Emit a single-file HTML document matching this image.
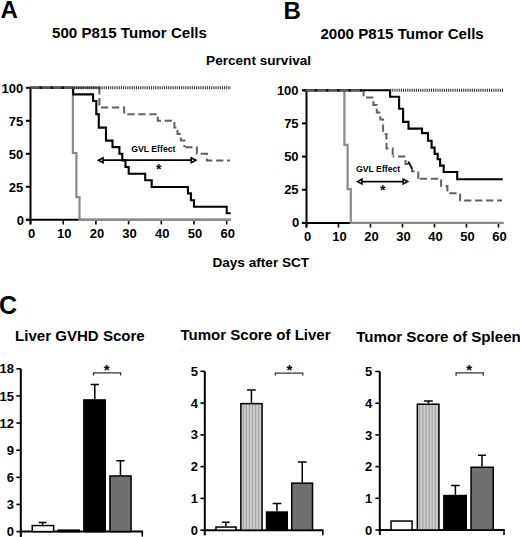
<!DOCTYPE html>
<html><head><meta charset="utf-8"><style>
html,body{margin:0;padding:0;background:#fff;width:520px;height:537px;overflow:hidden}
svg{display:block}
text{font-family:"Liberation Sans",sans-serif;font-weight:bold;fill:#000}
</style></head><body>
<svg width="520" height="537" viewBox="0 0 520 537">
<rect width="520" height="537" fill="#fff"/>
<text x="0.6" y="17.9" font-size="24" text-anchor="start" >A</text>
<text x="283.6" y="18.7" font-size="24" text-anchor="start" >B</text>
<text x="-0.9" y="313.5" font-size="25" text-anchor="start" >C</text>
<text x="129.5" y="37.7" font-size="15.1" text-anchor="middle" >500 P815 Tumor Cells</text>
<text x="402.1" y="39.2" font-size="15.1" text-anchor="middle" >2000 P815 Tumor Cells</text>
<text x="258.6" y="65.3" font-size="13.6" text-anchor="middle" >Percent survival</text>
<text x="260.8" y="266.9" font-size="13.6" text-anchor="middle" >Days after SCT</text>
<text x="79.9" y="340.6" font-size="15.05" text-anchor="middle" >Liver GVHD Score</text>
<text x="255.5" y="340.4" font-size="15.05" text-anchor="middle" >Tumor Score of Liver</text>
<text x="356.2" y="341.8" font-size="15.15" text-anchor="start" >Tumor Score of Spleen</text>
<path d="M30.5,87.8 V224.4" stroke="#000" stroke-width="2" fill="none"/>
<path d="M25.9,87.80 H30.5" stroke="#000" stroke-width="2"/>
<text x="23.2" y="92.7" font-size="13" text-anchor="end" >100</text>
<path d="M25.9,120.80 H30.5" stroke="#000" stroke-width="2"/>
<text x="23.2" y="125.7" font-size="13" text-anchor="end" >75</text>
<path d="M25.9,153.80 H30.5" stroke="#000" stroke-width="2"/>
<text x="23.2" y="158.7" font-size="13" text-anchor="end" >50</text>
<path d="M25.9,186.80 H30.5" stroke="#000" stroke-width="2"/>
<text x="23.2" y="191.7" font-size="13" text-anchor="end" >25</text>
<path d="M25.9,219.80 H30.5" stroke="#000" stroke-width="2"/>
<text x="23.9" y="224.7" font-size="13" text-anchor="end" >0</text>
<path d="M25.9,219.8 H231" stroke="#000" stroke-width="2"/>
<path d="M30.50,219.8 V224.4" stroke="#000" stroke-width="1.6"/>
<text x="31.5" y="238.1" font-size="13" text-anchor="middle" >0</text>
<path d="M63.20,219.8 V224.4" stroke="#000" stroke-width="1.6"/>
<text x="64.2" y="238.1" font-size="13" text-anchor="middle" >10</text>
<path d="M95.90,219.8 V224.4" stroke="#000" stroke-width="1.6"/>
<text x="96.9" y="238.1" font-size="13" text-anchor="middle" >20</text>
<path d="M128.60,219.8 V224.4" stroke="#000" stroke-width="1.6"/>
<text x="129.6" y="238.1" font-size="13" text-anchor="middle" >30</text>
<path d="M161.30,219.8 V224.4" stroke="#000" stroke-width="1.6"/>
<text x="162.3" y="238.1" font-size="13" text-anchor="middle" >40</text>
<path d="M194.00,219.8 V224.4" stroke="#000" stroke-width="1.6"/>
<text x="195.0" y="238.1" font-size="13" text-anchor="middle" >50</text>
<path d="M226.70,219.8 V224.4" stroke="#000" stroke-width="1.6"/>
<text x="227.7" y="238.1" font-size="13" text-anchor="middle" >60</text>
<path d="M306.5,90.2 V227.5" stroke="#000" stroke-width="2" fill="none"/>
<path d="M301.9,90.20 H306.5" stroke="#000" stroke-width="2"/>
<text x="298.59999999999997" y="94.7" font-size="13" text-anchor="end" >100</text>
<path d="M301.9,123.38 H306.5" stroke="#000" stroke-width="2"/>
<text x="298.59999999999997" y="127.88" font-size="13" text-anchor="end" >75</text>
<path d="M301.9,156.55 H306.5" stroke="#000" stroke-width="2"/>
<text x="298.59999999999997" y="161.05" font-size="13" text-anchor="end" >50</text>
<path d="M301.9,189.72 H306.5" stroke="#000" stroke-width="2"/>
<text x="298.59999999999997" y="194.22" font-size="13" text-anchor="end" >25</text>
<path d="M301.9,222.90 H306.5" stroke="#000" stroke-width="2"/>
<text x="299.29999999999995" y="227.4" font-size="13" text-anchor="end" >0</text>
<path d="M301.9,222.9 H503.3" stroke="#000" stroke-width="2"/>
<path d="M306.50,222.9 V227.5" stroke="#000" stroke-width="1.6"/>
<text x="307.5" y="240.9" font-size="13" text-anchor="middle" >0</text>
<path d="M338.50,222.9 V227.5" stroke="#000" stroke-width="1.6"/>
<text x="339.5" y="240.9" font-size="13" text-anchor="middle" >10</text>
<path d="M370.50,222.9 V227.5" stroke="#000" stroke-width="1.6"/>
<text x="371.5" y="240.9" font-size="13" text-anchor="middle" >20</text>
<path d="M402.50,222.9 V227.5" stroke="#000" stroke-width="1.6"/>
<text x="403.5" y="240.9" font-size="13" text-anchor="middle" >30</text>
<path d="M434.50,222.9 V227.5" stroke="#000" stroke-width="1.6"/>
<text x="435.5" y="240.9" font-size="13" text-anchor="middle" >40</text>
<path d="M466.50,222.9 V227.5" stroke="#000" stroke-width="1.6"/>
<text x="467.5" y="240.9" font-size="13" text-anchor="middle" >50</text>
<path d="M498.50,222.9 V227.5" stroke="#000" stroke-width="1.6"/>
<text x="499.5" y="240.9" font-size="13" text-anchor="middle" >60</text>
<path d="M30.5,87.7 H99.4 V107.6 H124.2 V114.2 H157.8 V120.8 H174.4 V127.4 H177.5 V134 H180.9 V140.6 H184.4 V147.2" stroke="#616161" stroke-width="2" fill="none" stroke-dasharray="7.3 3.7" stroke-dashoffset="8.70"/>
<path d="M184.4,147.2 H196.9 V153.8 H206.9 V160.4 H230" stroke="#616161" stroke-width="2" fill="none" stroke-dasharray="7.3 3.7" stroke-dashoffset="10.10"/>
<path d="M30.5,87.7 H72.9 V153 H76.4 V197.2 H79.5 V219.8 H230.9" stroke="#8a8a8a" stroke-width="2.2" fill="none"/>
<path d="M30.5,87.7 H73.2 V94.4 H93.1 V101 H96.3 V114.1 H98.8 V127.6 H106 V140.6 H112.5 V147.1 H119.4 V153.7 H122.3 V160.4 H125.5 V167 H128.7 V173.7 H145.2 V180.2 H151.7 V187 H187.9 V193.4 H190.9 V200.2 H194 V206.8 H226.7 V213.3 H230.7" stroke="#000" stroke-width="2.1" fill="none"/>
<path d="M99.4,87.7 H230.9" stroke="#2a2a2a" stroke-width="3" fill="none" stroke-dasharray="1.05 1.1"/>
<path d="M30.5,87.7 H73" stroke="#555" stroke-width="2.4" fill="none"/>
<path d="M30.5,87.7 H73" stroke="#111" stroke-width="2.6" fill="none" stroke-dasharray="2.5 8.5" stroke-dashoffset="-9"/>
<path d="M73,87.7 H99.4" stroke="#6a6a6a" stroke-width="2" fill="none"/>
<path d="M74,87.7 H99.4" stroke="#2a2a2a" stroke-width="3" fill="none" stroke-dasharray="1.05 1.1"/>
<path d="M306.5,90.2 H363.6 V97.6 H373.4 V104.9 H376.8 V112.6 H380.3 V119.4 H383.1 V133.9 H386.5 V148.6 H392.7 V156.4" stroke="#616161" stroke-width="2" fill="none" stroke-dasharray="7.3 3.7" stroke-dashoffset="10.10"/>
<path d="M392.7,156.4 H405.5 V163.9 H408.4 L411.9,168.3 V171.3 H418.3 V178.8" stroke="#616161" stroke-width="2" fill="none" stroke-dasharray="7.3 3.7" stroke-dashoffset="5.70"/>
<path d="M418.3,178.8 H441.1 V186 H447.4 V193.3 H460.1 V200.5 H502" stroke="#616161" stroke-width="2" fill="none" stroke-dasharray="7.3 3.7" stroke-dashoffset="9.50"/>
<path d="M306.5,90.2 H344.4 V144.9 H347.6 V189.2 H350.8 V222.9 H503.3" stroke="#8a8a8a" stroke-width="2.2" fill="none"/>
<path d="M306.5,90.2 H390.1 V96.8 H399.1 V108.8 H403.1 V121.9 H408.5 V128.6 H422 V133.1 H428 V140.7 H431.6 V147.6 H434.6 V153.9 H437.7 V159.3 H440.1 V165.6 H443.7 V172 H457.2 V179.2 H502.8" stroke="#000" stroke-width="2.1" fill="none"/>
<path d="M390.1,90.2 H503.3" stroke="#2a2a2a" stroke-width="3" fill="none" stroke-dasharray="1.05 1.1"/>
<path d="M303,90.2 H363.5" stroke="#555" stroke-width="2.4" fill="none"/>
<path d="M303,90.2 H363.5" stroke="#111" stroke-width="2.6" fill="none" stroke-dasharray="2.5 8.8" stroke-dashoffset="-11.6"/>
<path d="M408.6,162.2 L411.9,168.1" stroke="#111" stroke-width="1.9" stroke-linecap="round"/>
<path d="M102.3,160.2 H192.0" stroke="#000" stroke-width="1.7"/>
<path d="M98.5,160.2 L103.0,157.79999999999998 V162.6 Z" stroke="#000" stroke-width="1.6" fill="#fff" stroke-linejoin="miter" stroke-miterlimit="10"/>
<path d="M195.8,160.2 L191.3,157.79999999999998 V162.6 Z" stroke="#000" stroke-width="1.6" fill="#fff" stroke-linejoin="miter" stroke-miterlimit="10"/>
<path d="M361.2,181.6 H403.9" stroke="#000" stroke-width="1.7"/>
<path d="M357.4,181.6 L361.9,179.2 V184.0 Z" stroke="#000" stroke-width="1.6" fill="#fff" stroke-linejoin="miter" stroke-miterlimit="10"/>
<path d="M407.7,181.6 L403.2,179.2 V184.0 Z" stroke="#000" stroke-width="1.6" fill="#fff" stroke-linejoin="miter" stroke-miterlimit="10"/>
<text x="131.2" y="152.0" font-size="8.7" text-anchor="start" >GVL Effect</text>
<text x="356.0" y="172.4" font-size="8.7" text-anchor="start" >GVL Effect</text>
<text x="158.7" y="173.5" font-size="14" text-anchor="middle" >*</text>
<text x="382.8" y="195.0" font-size="14" text-anchor="middle" >*</text>
<path d="M20.8,368.8 V537" stroke="#000" stroke-width="2"/>
<path d="M16.4,531.60 H20.8" stroke="#000" stroke-width="1.6"/>
<text x="14.0" y="536.2" font-size="13" text-anchor="end" >0</text>
<path d="M16.4,504.47 H20.8" stroke="#000" stroke-width="1.6"/>
<text x="14.0" y="509.07" font-size="13" text-anchor="end" >3</text>
<path d="M16.4,477.33 H20.8" stroke="#000" stroke-width="1.6"/>
<text x="14.0" y="481.93" font-size="13" text-anchor="end" >6</text>
<path d="M16.4,450.20 H20.8" stroke="#000" stroke-width="1.6"/>
<text x="14.0" y="454.8" font-size="13" text-anchor="end" >9</text>
<path d="M16.4,423.07 H20.8" stroke="#000" stroke-width="1.6"/>
<text x="14.0" y="427.67" font-size="13" text-anchor="end" >12</text>
<path d="M16.4,395.93 H20.8" stroke="#000" stroke-width="1.6"/>
<text x="14.0" y="400.53" font-size="13" text-anchor="end" >15</text>
<path d="M16.4,368.80 H20.8" stroke="#000" stroke-width="1.6"/>
<text x="14.0" y="373.4" font-size="13" text-anchor="end" >18</text>
<path d="M20.8,531.6 H143" stroke="#000" stroke-width="2"/>
<path d="M142.3,531.6 V536.6" stroke="#000" stroke-width="1.6"/>
<path d="M42.6,524.8 V522.5 M38.7,522.5 H46.5" stroke="#000" stroke-width="1.5"/>
<rect x="32.25" y="525.55" width="21.4" height="6.050000000000068" fill="#fff" stroke="#000" stroke-width="1.5"/>
<rect x="58.05" y="530.15" width="21.200000000000003" height="1.4500000000000455" fill="#444" stroke="#000" stroke-width="1.5"/>
<path d="M94.8,399.2 V384.6 M90.6,384.6 H99.0" stroke="#000" stroke-width="1.5"/>
<rect x="83.85" y="399.95" width="21.400000000000006" height="131.65000000000003" fill="#000" stroke="#000" stroke-width="1.5"/>
<path d="M120.44999999999999,475.2 V460.8 M116.3,460.8 H124.6" stroke="#000" stroke-width="1.5"/>
<rect x="109.95" y="475.95" width="21.10000000000001" height="55.650000000000034" fill="#707070" stroke="#000" stroke-width="1.5"/>
<path d="M93.5,375.59999999999997 V372.9 H120.6 V375.59999999999997" stroke="#333" stroke-width="1.3" fill="none"/>
<text x="106.7" y="374.6" font-size="15" text-anchor="middle" >*</text>
<path d="M204.8,371.3 V535.3" stroke="#000" stroke-width="2"/>
<path d="M200.4,530.20 H204.8" stroke="#000" stroke-width="1.6"/>
<text x="198.0" y="534.8" font-size="13" text-anchor="end" >0</text>
<path d="M200.4,498.42 H204.8" stroke="#000" stroke-width="1.6"/>
<text x="198.0" y="503.02" font-size="13" text-anchor="end" >1</text>
<path d="M200.4,466.64 H204.8" stroke="#000" stroke-width="1.6"/>
<text x="198.0" y="471.24" font-size="13" text-anchor="end" >2</text>
<path d="M200.4,434.86 H204.8" stroke="#000" stroke-width="1.6"/>
<text x="198.0" y="439.46" font-size="13" text-anchor="end" >3</text>
<path d="M200.4,403.08 H204.8" stroke="#000" stroke-width="1.6"/>
<text x="198.0" y="407.68" font-size="13" text-anchor="end" >4</text>
<path d="M200.4,371.30 H204.8" stroke="#000" stroke-width="1.6"/>
<text x="198.0" y="375.9" font-size="13" text-anchor="end" >5</text>
<path d="M204.8,530.2 H323.5" stroke="#000" stroke-width="2"/>
<path d="M322.8,530.2 V535.2" stroke="#000" stroke-width="1.6"/>
<path d="M225.85,526.3 V522.3 M222.1,522.3 H229.6" stroke="#000" stroke-width="1.5"/>
<rect x="215.95" y="527.05" width="20.100000000000023" height="3.150000000000091" fill="#fff" stroke="#000" stroke-width="1.5"/>
<path d="M251.45,402.9 V389.9 M247.1,389.9 H255.8" stroke="#000" stroke-width="1.5"/>
<rect x="240.85" y="403.65" width="21.200000000000017" height="126.55000000000007" fill="#d0d0d0"/>
<rect x="242.60" y="402.9" width="1.3" height="127.30000000000007" fill="#a6a6a6"/>
<rect x="245.70" y="402.9" width="1.3" height="127.30000000000007" fill="#a6a6a6"/>
<rect x="248.80" y="402.9" width="1.3" height="127.30000000000007" fill="#a6a6a6"/>
<rect x="251.90" y="402.9" width="1.3" height="127.30000000000007" fill="#a6a6a6"/>
<rect x="255.00" y="402.9" width="1.3" height="127.30000000000007" fill="#a6a6a6"/>
<rect x="258.10" y="402.9" width="1.3" height="127.30000000000007" fill="#a6a6a6"/>
<rect x="261.20" y="402.9" width="1.3" height="127.30000000000007" fill="#a6a6a6"/>
<rect x="240.85" y="403.65" width="21.200000000000017" height="126.55000000000007" fill="none" stroke="#000" stroke-width="1.5"/>
<path d="M276.95000000000005,511.3 V503.5 M272.6,503.5 H281.3" stroke="#000" stroke-width="1.5"/>
<rect x="266.55" y="512.05" width="20.69999999999999" height="18.150000000000034" fill="#000" stroke="#000" stroke-width="1.5"/>
<path d="M302.25,482.4 V462.0 M297.9,462.0 H306.6" stroke="#000" stroke-width="1.5"/>
<rect x="291.75" y="483.15" width="20.80000000000001" height="47.05000000000007" fill="#707070" stroke="#000" stroke-width="1.5"/>
<path d="M275.4,375.5 V373.1 H302.8 V375.5" stroke="#333" stroke-width="1.3" fill="none"/>
<text x="289.3" y="374.8" font-size="15" text-anchor="middle" >*</text>
<path d="M379.8,371.5 V535.0" stroke="#000" stroke-width="2"/>
<path d="M375.40000000000003,530.00 H379.8" stroke="#000" stroke-width="1.6"/>
<text x="372.3" y="534.6" font-size="13" text-anchor="end" >0</text>
<path d="M375.40000000000003,498.30 H379.8" stroke="#000" stroke-width="1.6"/>
<text x="372.3" y="502.9" font-size="13" text-anchor="end" >1</text>
<path d="M375.40000000000003,466.60 H379.8" stroke="#000" stroke-width="1.6"/>
<text x="372.3" y="471.2" font-size="13" text-anchor="end" >2</text>
<path d="M375.40000000000003,434.90 H379.8" stroke="#000" stroke-width="1.6"/>
<text x="372.3" y="439.5" font-size="13" text-anchor="end" >3</text>
<path d="M375.40000000000003,403.20 H379.8" stroke="#000" stroke-width="1.6"/>
<text x="372.3" y="407.8" font-size="13" text-anchor="end" >4</text>
<path d="M375.40000000000003,371.50 H379.8" stroke="#000" stroke-width="1.6"/>
<text x="372.3" y="376.1" font-size="13" text-anchor="end" >5</text>
<path d="M379.8,530.0 H504.7" stroke="#000" stroke-width="2"/>
<path d="M504.0,530.0 V535.0" stroke="#000" stroke-width="1.6"/>
<rect x="391.05" y="521.05" width="21.0" height="8.950000000000045" fill="#fff" stroke="#000" stroke-width="1.5"/>
<path d="M428.4,403.5 V401.1 M424.0,401.1 H432.8" stroke="#000" stroke-width="1.5"/>
<rect x="417.35" y="404.25" width="21.599999999999966" height="125.75" fill="#d0d0d0"/>
<rect x="419.10" y="403.5" width="1.3" height="126.5" fill="#a6a6a6"/>
<rect x="422.20" y="403.5" width="1.3" height="126.5" fill="#a6a6a6"/>
<rect x="425.30" y="403.5" width="1.3" height="126.5" fill="#a6a6a6"/>
<rect x="428.40" y="403.5" width="1.3" height="126.5" fill="#a6a6a6"/>
<rect x="431.50" y="403.5" width="1.3" height="126.5" fill="#a6a6a6"/>
<rect x="434.60" y="403.5" width="1.3" height="126.5" fill="#a6a6a6"/>
<rect x="437.70" y="403.5" width="1.3" height="126.5" fill="#a6a6a6"/>
<rect x="417.35" y="404.25" width="21.599999999999966" height="125.75" fill="none" stroke="#000" stroke-width="1.5"/>
<path d="M455.4,494.8 V485.6 M451.1,485.6 H459.7" stroke="#000" stroke-width="1.5"/>
<rect x="443.85" y="495.55" width="22.399999999999977" height="34.44999999999999" fill="#000" stroke="#000" stroke-width="1.5"/>
<path d="M482.0,466.5 V455.3 M478.0,455.3 H486.0" stroke="#000" stroke-width="1.5"/>
<rect x="471.05" y="467.25" width="22.19999999999999" height="62.75" fill="#707070" stroke="#000" stroke-width="1.5"/>
<path d="M456.1,375.7 V372.8 H483.3 V375.7" stroke="#333" stroke-width="1.3" fill="none"/>
<text x="469.2" y="374.6" font-size="15" text-anchor="middle" >*</text>
</svg>
</body></html>
